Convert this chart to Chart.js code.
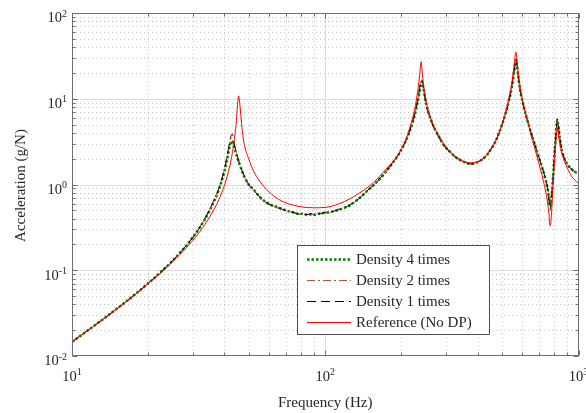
<!DOCTYPE html>
<html lang="en">
<head>
<meta charset="UTF-8">
<title>Acceleration FRF</title>
<script src="https://cdn.jsdelivr.net/npm/chart.js"></script>
<style>
  html, body { margin: 0; padding: 0; background: #ffffff; }
  #frf { display: block; }
</style>
</head>
<body>
<canvas id="frf" width="586" height="413"></canvas>
<script>
// Reference model without damping patches (Hz, g/N)
const refFreq = [
  10, 12, 14, 16, 18, 20, 22.5, 25, 28, 30,
  32, 35, 38, 40, 42, 43, 44, 44.6, 45, 45.5,
  46, 46.5, 47, 48, 50, 52, 55, 60, 65, 70,
  80, 90, 100, 114, 125, 137, 150, 164, 175, 188,
  200, 206, 213, 220, 226, 232, 236, 239, 242, 245,
  248, 253, 259, 270, 284, 300, 325, 350, 373, 400,
  427, 450, 468, 490, 512, 530, 545, 556, 566, 576,
  587, 600, 620, 645, 673, 700, 717, 735, 751, 764,
  772, 778, 785, 792, 800, 808, 815, 821, 826, 832,
  845, 865, 884, 924, 960, 1000
];
const refAcc = [
  0.0146, 0.0215, 0.0301, 0.0406, 0.0534, 0.0700, 0.094, 0.126, 0.177, 0.223,
  0.283, 0.42, 0.665, 0.98, 1.65, 2.35, 3.8, 5.6, 8.2, 10.8,
  8.5, 6.0, 4.3, 2.85, 1.95, 1.45, 1.1, 0.82, 0.68, 0.61,
  0.55, 0.535, 0.54, 0.6, 0.68, 0.8, 0.97, 1.25, 1.55, 1.95,
  2.6, 3.1, 4.1, 5.6, 7.8, 12.5, 19, 27, 19, 13.5,
  11, 8, 6.3, 4.6, 3.5, 2.75, 2.15, 1.88, 1.79, 1.85,
  2.1, 2.6, 3.1, 4.3, 6.5, 10, 15, 24, 35, 22,
  14.5, 10, 6.6, 4.1, 2.6, 1.7, 1.3, 0.95, 0.68, 0.46,
  0.33, 0.36, 0.55, 0.9, 1.5, 2.3, 3.3, 4.2, 4.6, 4.0,
  2.9, 2.15, 1.8, 1.35, 1.15, 1.03
];

// Damping-patch models, common frequency grid
const dpFreq = [
  10, 12, 14, 16, 18, 20, 22.5, 25, 28, 30,
  32, 35, 38, 40, 41, 42, 42.5, 43, 43.5, 44,
  45, 46, 48, 50, 52, 55, 58, 61, 64, 67,
  70, 73, 76, 79, 82, 85, 88, 91, 94, 97,
  100, 104, 108, 112, 116, 120, 125, 130, 137, 145,
  155, 165, 175, 185, 195, 205, 213, 220, 226, 231,
  235, 238, 241, 244, 247, 251, 256, 262, 270, 280,
  292, 305, 318, 330, 342, 355, 367, 380, 392, 405,
  420, 435, 450, 468, 490, 512, 530, 545, 556, 563,
  567, 572, 580, 590, 605, 625, 650, 675, 700, 720,
  738, 752, 762, 768, 772, 776, 782, 790, 798, 806,
  814, 820, 825, 830, 838, 850, 870, 900, 940, 970,
  1000
];
const d4Acc = [
  0.0146, 0.0216, 0.0303, 0.0410, 0.0543, 0.0705, 0.0963, 0.130, 0.188, 0.242,
  0.317, 0.50, 0.87, 1.43, 1.98, 2.85, 3.2, 3.1, 2.85, 2.55,
  2.05, 1.68, 1.22, 0.99, 0.88, 0.72, 0.63, 0.58, 0.55, 0.525,
  0.50, 0.48, 0.47, 0.45, 0.458, 0.44, 0.452, 0.443, 0.456, 0.46,
  0.47, 0.472, 0.49, 0.50, 0.52, 0.54, 0.57, 0.62, 0.70, 0.82,
  0.98, 1.18, 1.45, 1.8, 2.25, 2.95, 3.8, 5.0, 6.6, 8.8,
  11.5, 14.5, 15.8, 13.5, 10.8, 8.4, 6.8, 5.6, 4.5, 3.7,
  2.95, 2.55, 2.25, 2.05, 1.92, 1.82, 1.76, 1.74, 1.78, 1.86,
  2.0, 2.2, 2.55, 3.1, 4.3, 6.3, 9.2, 13.5, 20, 26,
  28.5, 24, 17, 12, 8.5, 5.9, 4.0, 2.8, 2.0, 1.55,
  1.2, 0.95, 0.75, 0.6, 0.55, 0.58, 0.7, 1.0, 1.6, 2.6,
  3.8, 5.0, 5.7, 5.2, 4.1, 3.0, 2.2, 1.75, 1.5, 1.4,
  1.34
];
const d2Acc = [
  0.0146, 0.0216, 0.0303, 0.0410, 0.0543, 0.0705, 0.0963, 0.130, 0.188, 0.242,
  0.318, 0.51, 0.89, 1.5, 2.1, 3.0, 3.45, 3.5, 3.1, 2.7,
  2.1, 1.7, 1.22, 0.98, 0.86, 0.71, 0.62, 0.585, 0.54, 0.515,
  0.495, 0.485, 0.46, 0.455, 0.447, 0.452, 0.44, 0.45, 0.462, 0.455,
  0.475, 0.468, 0.495, 0.505, 0.515, 0.545, 0.575, 0.615, 0.705, 0.815,
  0.99, 1.17, 1.46, 1.8, 2.27, 2.95, 3.85, 5.05, 6.7, 9.0,
  12, 15.2, 16.2, 13.6, 10.6, 8.3, 6.7, 5.55, 4.45, 3.65,
  2.95, 2.5, 2.22, 2.03, 1.9, 1.84, 1.77, 1.75, 1.79, 1.85,
  2.02, 2.2, 2.57, 3.12, 4.3, 6.35, 9.3, 13.8, 20.5, 26.5,
  29, 24.5, 17.2, 12.1, 8.6, 5.95, 4.05, 2.82, 2.02, 1.57,
  1.22, 0.97, 0.78, 0.64, 0.6, 0.63, 0.74, 1.02, 1.62, 2.62,
  3.85, 5.05, 5.8, 5.25, 4.15, 3.02, 2.22, 1.77, 1.51, 1.41,
  1.35
];
const d1Acc = [
  0.0146, 0.0216, 0.0303, 0.0410, 0.0543, 0.0705, 0.0963, 0.130, 0.188, 0.242,
  0.319, 0.52, 0.9, 1.52, 2.2, 3.2, 3.75, 3.9, 3.3, 2.75,
  2.12, 1.72, 1.24, 0.99, 0.87, 0.72, 0.625, 0.575, 0.545, 0.52,
  0.49, 0.475, 0.468, 0.448, 0.452, 0.445, 0.455, 0.438, 0.45, 0.465,
  0.468, 0.48, 0.487, 0.51, 0.525, 0.538, 0.58, 0.625, 0.7, 0.825,
  0.985, 1.19, 1.45, 1.82, 2.26, 2.97, 3.82, 5.1, 6.75, 9.1,
  12.3, 15.5, 16.5, 13.8, 10.7, 8.35, 6.75, 5.5, 4.4, 3.62,
  2.93, 2.52, 2.2, 2.04, 1.92, 1.83, 1.76, 1.73, 1.78, 1.87,
  2.01, 2.22, 2.56, 3.1, 4.28, 6.3, 9.25, 13.7, 20.3, 26.2,
  28.8, 24.2, 17.1, 12.05, 8.55, 5.92, 4.02, 2.81, 2.01, 1.56,
  1.21, 0.96, 0.74, 0.56, 0.5, 0.54, 0.68, 0.99, 1.58, 2.58,
  3.8, 5.02, 5.75, 5.22, 4.12, 3.01, 2.21, 1.76, 1.5, 1.4,
  1.34
];

// decade exponents used for tick labels
const xTickExp = [1, 2, 3];
const yTickExp = [-2, -1, 0, 1, 2];

const FONT = '"Liberation Serif", "Times New Roman", serif';
const INK = '#262626';

function pairs(freq, acc) {
  return freq.map((f, i) => ({ x: f, y: acc[i] }));
}

// values 1..9 x 10^e between lo and hi
function logSteps(lo, hi) {
  const out = [];
  for (let e = Math.floor(Math.log10(lo)); e <= Math.ceil(Math.log10(hi)); e++) {
    for (let s = 1; s <= 9; s++) {
      const v = s * Math.pow(10, e);
      if (v >= lo * 0.999 && v <= hi * 1.001) out.push({ v, major: s === 1 });
    }
  }
  return out;
}

function powerLabel(ctx, exp, x, y, align) {
  ctx.font = '14.5px ' + FONT;
  const wb = ctx.measureText('10').width;
  ctx.font = '10px ' + FONT;
  const es = String(exp);
  const we = ctx.measureText(es).width;
  const x0 = align === 'right' ? x - wb - we : x - (wb + we) / 2;
  ctx.textAlign = 'left';
  ctx.textBaseline = 'alphabetic';
  ctx.font = '14.5px ' + FONT;
  ctx.fillText('10', x0, y);
  ctx.font = '10px ' + FONT;
  ctx.fillText(es, x0 + wb, y - 5.8);
}

// grid, box, ticks, labels and the inset legend
const axesFrame = {
  id: 'axesFrame',
  beforeDatasetsDraw(chart) {
    const { ctx, chartArea: a, scales: { x, y } } = chart;
    ctx.save();
    ctx.lineWidth = 1;
    logSteps(x.min, x.max).forEach(t => {
      const px = Math.round(x.getPixelForValue(t.v)) + 0.5;
      if (px <= a.left + 1 || px >= a.right - 1) return;
      ctx.strokeStyle = t.major ? '#dcdcdc' : '#c4c4c4';
      ctx.setLineDash(t.major ? [] : [1, 3]);
      ctx.beginPath(); ctx.moveTo(px, a.top); ctx.lineTo(px, a.bottom); ctx.stroke();
    });
    logSteps(y.min, y.max).forEach(t => {
      const py = Math.round(y.getPixelForValue(t.v)) + 0.5;
      if (py <= a.top + 1 || py >= a.bottom - 1) return;
      ctx.strokeStyle = t.major ? '#dcdcdc' : '#c4c4c4';
      ctx.setLineDash(t.major ? [] : [1, 3]);
      ctx.beginPath(); ctx.moveTo(a.left, py); ctx.lineTo(a.right, py); ctx.stroke();
    });
    ctx.restore();
  },
  afterDatasetsDraw(chart) {
    const { ctx, chartArea: a, scales: { x, y } } = chart;
    const L = Math.round(a.left) + 0.5, R = Math.round(a.right) - 0.5;
    const T = Math.round(a.top) + 0.5, B = Math.round(a.bottom) - 0.5;
    ctx.save();

    // box and inward ticks
    ctx.strokeStyle = '#6e6e6e';
    ctx.lineWidth = 1;
    ctx.strokeRect(L, T, R - L, B - T);
    ctx.beginPath();
    logSteps(x.min, x.max).forEach(t => {
      const px = Math.round(x.getPixelForValue(t.v)) + 0.5;
      const len = t.major ? 5 : 3;
      ctx.moveTo(px, B); ctx.lineTo(px, B - len);
      ctx.moveTo(px, T); ctx.lineTo(px, T + len);
    });
    logSteps(y.min, y.max).forEach(t => {
      const py = Math.round(y.getPixelForValue(t.v)) + 0.5;
      const len = t.major ? 5 : 3;
      ctx.moveTo(L, py); ctx.lineTo(L + len, py);
      ctx.moveTo(R, py); ctx.lineTo(R - len, py);
    });
    ctx.stroke();

    // tick labels
    ctx.fillStyle = INK;
    xTickExp.forEach(e => {
      powerLabel(ctx, e, x.getPixelForValue(Math.pow(10, e)), a.bottom + 25, 'center');
    });
    yTickExp.forEach(e => {
      powerLabel(ctx, e, a.left - 5, y.getPixelForValue(Math.pow(10, e)) + 9.3, 'right');
    });

    // axis titles
    ctx.font = '15px ' + FONT;
    ctx.textAlign = 'center';
    ctx.textBaseline = 'middle';
    ctx.fillText('Frequency (Hz)', (a.left + a.right) / 2, 403);
    ctx.save();
    ctx.translate(21, (a.top + a.bottom) / 2 + 1);
    ctx.rotate(-Math.PI / 2);
    ctx.fillText('Acceleration (g/N)', 0, 0);
    ctx.restore();

    // legend, sample strokes a little heavier than the plotted lines
    const lx = 297.5, ly = 245.5, lw = 192, lh = 89;
    ctx.fillStyle = '#ffffff';
    ctx.fillRect(lx, ly, lw, lh);
    ctx.strokeStyle = INK;
    ctx.lineWidth = 0.8;
    ctx.strokeRect(lx, ly, lw, lh);
    chart.data.datasets.forEach((ds, i) => {
      const cy = Math.round(259 + i * 21) + 0.5;
      ctx.strokeStyle = ds.borderColor;
      ctx.lineWidth = Math.max(ds.borderWidth, 1);
      ctx.setLineDash(ds.borderDash || []);
      ctx.beginPath(); ctx.moveTo(307, cy); ctx.lineTo(351, cy); ctx.stroke();
      ctx.setLineDash([]);
      ctx.fillStyle = INK;
      ctx.font = '15px ' + FONT;
      ctx.textAlign = 'left';
      ctx.textBaseline = 'middle';
      ctx.fillText(ds.label, 356, cy + 0.5);
    });
    ctx.restore();
  }
};

new Chart(document.getElementById('frf'), {
  type: 'line',
  data: {
    datasets: [
      { label: 'Density 4 times', data: pairs(dpFreq, d4Acc), borderColor: '#008000',
        borderWidth: 2.5, borderDash: [2.5, 2], order: 4 },
      { label: 'Density 2 times', data: pairs(dpFreq, d2Acc), borderColor: '#C0501E',
        borderWidth: 0.9, borderDash: [8, 3, 2, 3], order: 3 },
      { label: 'Density 1 times', data: pairs(dpFreq, d1Acc), borderColor: '#000000',
        borderWidth: 0.9, borderDash: [9, 5], order: 2 },
      { label: 'Reference (No DP)', data: pairs(refFreq, refAcc), borderColor: '#FF0000',
        borderWidth: 1, order: 1 }
    ]
  },
  options: {
    responsive: false,
    animation: false,
    devicePixelRatio: 1,
    layout: { padding: { left: 72, right: 7.5, top: 13, bottom: 57 } },
    elements: {
      point: { radius: 0 },
      line: { cubicInterpolationMode: 'monotone', fill: false }
    },
    scales: {
      x: { type: 'logarithmic', min: 10, max: 1000, display: false },
      y: { type: 'logarithmic', min: 0.01, max: 100, display: false }
    },
    plugins: {
      legend: { display: false },
      tooltip: { enabled: false }
    }
  },
  plugins: [axesFrame]
});
</script>
</body>
</html>
